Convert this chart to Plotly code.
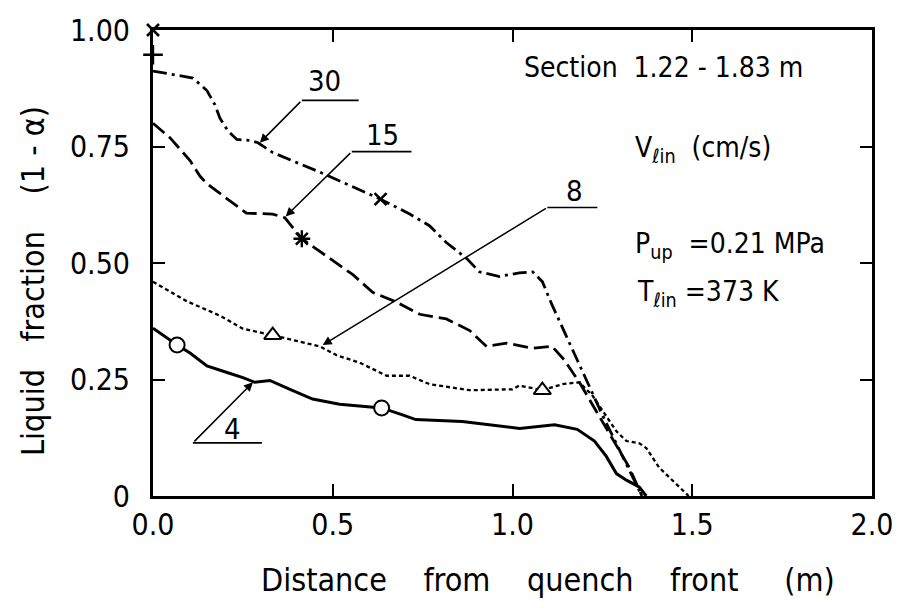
import plotly.graph_objects as go

# ---------------- data ----------------
x30 = [0.0, 0.111, 0.15, 0.172, 0.186, 0.208, 0.233, 0.269, 0.292, 0.333, 0.464, 0.556, 0.633,
       0.714, 0.769, 0.816, 0.872, 0.908, 0.964, 1.019, 1.056, 1.083, 1.11, 1.25, 1.36]
y30 = [0.912, 0.897, 0.87, 0.84, 0.811, 0.784, 0.765, 0.763, 0.758, 0.737, 0.695, 0.664, 0.637,
       0.605, 0.58, 0.544, 0.51, 0.481, 0.471, 0.479, 0.481, 0.46, 0.41, 0.174, 0.0]

x15 = [0.0, 0.047, 0.103, 0.131, 0.15, 0.206, 0.26, 0.333, 0.367, 0.414, 0.5, 0.556, 0.611, 0.678,
       0.742, 0.816, 0.881, 0.928, 0.983, 1.056, 1.11, 1.144, 1.186, 1.27, 1.325, 1.36]
y15 = [0.80, 0.769, 0.72, 0.686, 0.67, 0.637, 0.607, 0.605, 0.597, 0.552, 0.506, 0.475, 0.437, 0.416,
       0.39, 0.38, 0.355, 0.321, 0.328, 0.317, 0.321, 0.292, 0.244, 0.132, 0.061, 0.0]

x8 = [0.0, 0.094, 0.186, 0.25, 0.333, 0.4, 0.464, 0.511, 0.575, 0.65, 0.714, 0.769, 0.881, 1.0,
      1.019, 1.083, 1.139, 1.186, 1.222, 1.289, 1.317, 1.353, 1.372, 1.408, 1.444, 1.483, 1.49]
y8 = [0.46, 0.418, 0.387, 0.359, 0.345, 0.332, 0.321, 0.302, 0.286, 0.258, 0.258, 0.24, 0.227, 0.229,
      0.237, 0.227, 0.24, 0.244, 0.216, 0.139, 0.118, 0.113, 0.103, 0.061, 0.034, 0.006, 0.0]

x4 = [0.0, 0.067, 0.103, 0.15, 0.206, 0.25, 0.283, 0.325, 0.381, 0.444, 0.519, 0.594, 0.636, 0.694,
      0.731, 0.86, 1.02, 1.117, 1.18, 1.228, 1.261, 1.289, 1.317, 1.353, 1.372]
y4 = [0.36, 0.324, 0.307, 0.279, 0.265, 0.254, 0.244, 0.248, 0.229, 0.208, 0.197, 0.191, 0.189, 0.174,
      0.164, 0.16, 0.145, 0.153, 0.143, 0.118, 0.085, 0.048, 0.034, 0.019, 0.0]

# marker points on the curves
mk30_x, mk30_y = [0.633, 0.0], [0.637, 1.0]
mk15_x, mk15_y = [0.414], [0.552]
mk15b_x, mk15b_y = [0.0], [0.947]
mk8_x, mk8_y = [0.333, 1.083], [0.345, 0.227]
mk4_x, mk4_y = [0.067, 0.636], [0.324, 0.189]

series_labels = ["30", "15", "8", "4"]
# callouts: label position, underline start/end, arrow tip
lab_x = [0.478, 0.639, 1.172, 0.222]
lab_y = [0.891, 0.775, 0.655, 0.143]
ul_x0 = [0.414, 0.553, 1.097, 0.111]
ul_x1 = [0.572, 0.719, 1.236, 0.303]
ul_y = [0.849, 0.739, 0.619, 0.114]
tip_x = [0.297, 0.369, 0.472, 0.278]
tip_y = [0.758, 0.600, 0.324, 0.244]

xticks = [0.0, 0.5, 1.0, 1.5, 2.0]
xticktext = ["0.0", "0.5", "1.0", "1.5", "2.0"]
yticks = [0.0, 0.25, 0.5, 0.75, 1.0]
yticktext = ["0", "0.25", "0.50", "0.75", "1.00"]

FONT = "DejaVu Sans Condensed, Liberation Sans Narrow, DejaVu Sans, sans-serif"
BLK = "black"
NB = "\u00a0"

fig = go.Figure()
fig.add_trace(go.Scatter(x=x30, y=y30, mode="lines",
                         line=dict(color=BLK, width=2.8, dash="14px,5px,3px,5px")))
fig.add_trace(go.Scatter(x=x15, y=y15, mode="lines",
                         line=dict(color=BLK, width=2.8, dash="15px,6px")))
fig.add_trace(go.Scatter(x=x8, y=y8, mode="lines",
                         line=dict(color=BLK, width=2.3, dash="4px,3px")))
fig.add_trace(go.Scatter(x=x4, y=y4, mode="lines",
                         line=dict(color=BLK, width=3)))

fig.add_trace(go.Scatter(x=mk30_x, y=mk30_y, mode="markers", cliponaxis=False,
                         marker=dict(symbol="x-thin-open", size=12, color=BLK,
                                     line=dict(color=BLK, width=2.6))))
fig.add_trace(go.Scatter(x=mk15_x, y=mk15_y, mode="markers", cliponaxis=False,
                         marker=dict(symbol="asterisk-open", size=14, color=BLK,
                                     line=dict(color=BLK, width=2.4))))
fig.add_trace(go.Scatter(x=mk15b_x, y=mk15b_y, mode="markers", cliponaxis=False,
                         marker=dict(symbol="cross-thin-open", size=14, color=BLK,
                                     line=dict(color=BLK, width=2.4))))
fig.add_trace(go.Scatter(x=mk8_x, y=mk8_y, mode="markers", cliponaxis=False,
                         marker=dict(symbol="triangle-up", size=15, color="white",
                                     line=dict(color=BLK, width=2))))
fig.add_trace(go.Scatter(x=mk4_x, y=mk4_y, mode="markers", cliponaxis=False,
                         marker=dict(symbol="circle", size=15, color="white",
                                     line=dict(color=BLK, width=2))))

anns = []
shapes = []
for i, lab in enumerate(series_labels):
    anns.append(dict(x=lab_x[i], y=lab_y[i], xref="x", yref="y", text=lab, showarrow=False,
                     font=dict(family=FONT, size=29, color=BLK)))
    shapes.append(dict(type="line", xref="x", yref="y", x0=ul_x0[i], x1=ul_x1[i],
                       y0=ul_y[i], y1=ul_y[i], line=dict(color=BLK, width=1.6)))
    anns.append(dict(x=tip_x[i], y=tip_y[i], xref="x", yref="y", ax=ul_x0[i], ay=ul_y[i],
                     axref="x", ayref="y", text="", showarrow=True, arrowhead=2,
                     arrowsize=1.2, arrowwidth=1.5, arrowcolor=BLK))

txt_font = dict(family=FONT, size=28, color=BLK)
anns += [
    dict(x=(522 - 153) / 719, y=(496 - 60) / 474.5, xref="paper", yref="paper", xanchor="left",
         yanchor="middle", text=f"Section{NB}{NB}1.22{NB}-{NB}1.83{NB}m", showarrow=False, font=txt_font),
    dict(x=(633 - 153) / 719, y=(496 - 143) / 474.5, xref="paper", yref="paper", xanchor="left",
         yanchor="middle", text=f"V<sub>\u2113in</sub>{NB}{NB}(cm/s)", showarrow=False, font=txt_font),
    dict(x=(633 - 153) / 719, y=(496 - 241) / 474.5, xref="paper", yref="paper", xanchor="left",
         yanchor="middle", text=f"P<sub>up</sub>{NB}{NB}=0.21{NB}MPa", showarrow=False, font=txt_font),
    dict(x=(635 - 153) / 719, y=(496 - 290) / 474.5, xref="paper", yref="paper", xanchor="left",
         yanchor="middle", text=f"T<sub>\u2113in</sub>{NB}=373{NB}K", showarrow=False, font=txt_font),
    dict(x=(548 - 153) / 719, y=(496 - 582) / 474.5, xref="paper", yref="paper", xanchor="center",
         yanchor="middle",
         text=f"Distance{NB*4}from{NB*4}quench{NB*4}front{NB*5}(m)",
         showarrow=False, font=dict(family=FONT, size=32, color=BLK)),
    dict(x=(33 - 153) / 719, y=(496 - 277) / 474.5, xref="paper", yref="paper", xanchor="center",
         yanchor="middle", textangle=-90,
         text=f"Liquid{NB*3}fraction{NB*4}(1{NB}-{NB}\u03b1)",
         showarrow=False, font=dict(family=FONT, size=32, color=BLK)),
]

axis_common = dict(showline=True, linecolor=BLK, linewidth=3, mirror="ticks", ticks="inside",
                   ticklen=12, tickwidth=1.6, tickcolor=BLK, showgrid=False, zeroline=False,
                   tickfont=dict(family=FONT, size=30, color=BLK))

fig.update_layout(
    width=906, height=609,
    margin=dict(l=153, r=34, t=21, b=113),
    paper_bgcolor="white", plot_bgcolor="white",
    showlegend=False,
    annotations=anns, shapes=shapes,
    xaxis=dict(range=[0, 2], tickvals=xticks, ticktext=xticktext, ticklabelstandoff=0, **axis_common),
    yaxis=dict(range=[0, 1], tickvals=yticks, ticktext=yticktext, ticklabelstandoff=14, **axis_common),
)

fig.write_html("out.html")
